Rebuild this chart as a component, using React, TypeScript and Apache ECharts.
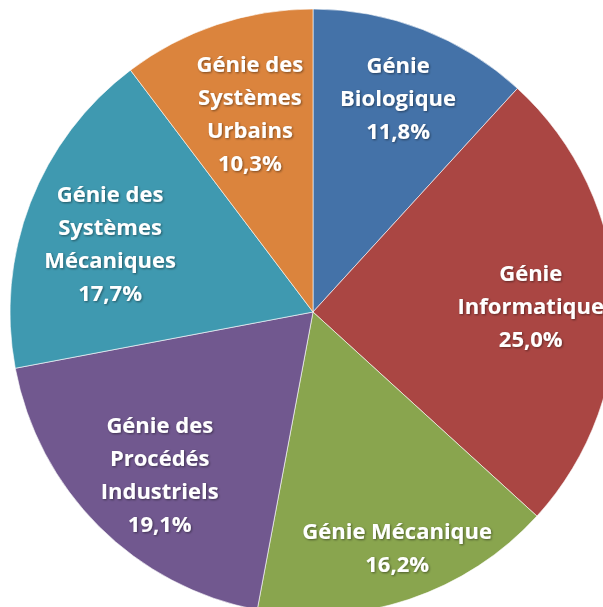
import React, { useEffect, useRef } from "react";
import * as echarts from "echarts";

const categories = [
  "Génie\nBiologique",
  "Génie\nInformatique",
  "Génie Mécanique",
  "Génie des\nProcédés\nIndustriels",
  "Génie des\nSystèmes\nMécaniques",
  "Génie des\nSystèmes\nUrbains",
];
const values = [11.8, 25.0, 16.2, 19.1, 17.7, 10.3];
const colors = ["#4472A8", "#AA4643", "#89A54E", "#71588F", "#3F99B0", "#DB843D"];
// fine label nudges (layout only)
const labelShift = [
  [4, -6],
  [-6, 3],
  [13, 22],
  [5, 3],
  [6, 11],
  [8, 13],
];

export default function App() {
  const ref = useRef<HTMLDivElement>(null);
  useEffect(() => {
    if (!ref.current) return;
    const chart = echarts.init(ref.current, undefined, { renderer: "svg" });
    const data = categories.map((name, i) => ({ name, value: values[i] }));
    chart.setOption({
      animation: false,
      color: colors,
      series: [
        {
          type: "pie",
          center: [313, 312],
          radius: [0, 303],
          startAngle: 90,
          clockwise: true,
          silent: true,
          data,
          itemStyle: { borderColor: "rgba(255,255,255,0.6)", borderWidth: 1 },
          label: { show: false },
          labelLine: { show: false },
        },
        {
          type: "pie",
          center: [313, 312],
          radius: [139, 303],
          startAngle: 90,
          clockwise: true,
          silent: true,
          data,
          itemStyle: { color: "rgba(0,0,0,0)" },
          label: {
            show: true,
            position: "inside",
            formatter: (p: any) =>
              p.name + "\n" + Number(p.value).toFixed(1).replace(".", ",") + "%",
            color: "#fff",
            fontFamily: "Open Sans",
            fontWeight: "bold",
            fontSize: 22,
            lineHeight: 33,
            align: "center",
            textShadowColor: "rgba(0,0,0,0.45)",
            textShadowBlur: 2,
            textShadowOffsetX: 1,
            textShadowOffsetY: 1,
          },
          labelLayout: (p: any) => ({
            dx: labelShift[p.dataIndex][0],
            dy: labelShift[p.dataIndex][1],
          }),
          labelLine: { show: false },
        },
      ],
    });
    return () => chart.dispose();
  }, []);
  return (
    <div
      ref={ref}
      style={{ position: "fixed", left: 0, top: 0, width: 603, height: 607 }}
    />
  );
}
